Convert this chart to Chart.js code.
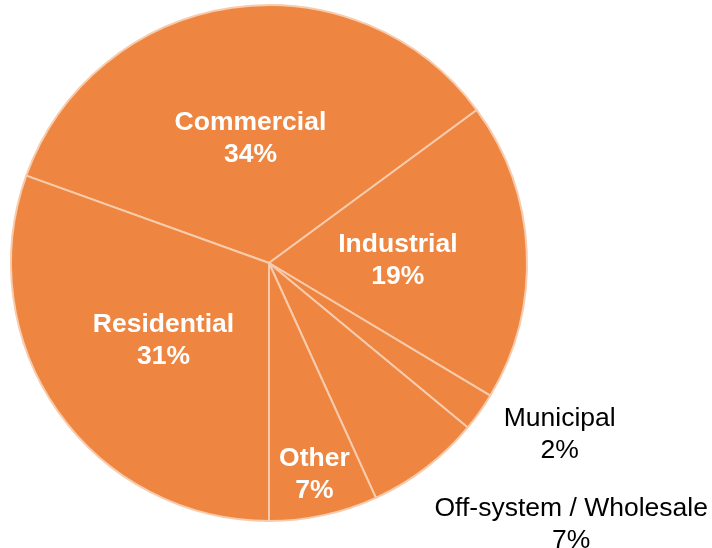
<!DOCTYPE html>
<html>
<head>
<meta charset="utf-8">
<script src="https://cdn.jsdelivr.net/npm/chart.js@4/dist/chart.umd.min.js"></script>
<style>
  html, body { margin: 0; padding: 0; background: #ffffff; }
  #wrap { width: 712px; height: 548px; }
</style>
</head>
<body>
<div id="wrap"><canvas id="c" width="712" height="548"></canvas></div>
<script>
// ---- data ----
const categories = ["Commercial", "Industrial", "Municipal", "Off-system / Wholesale", "Other", "Residential"];
const shares = [34.4, 18.7, 2.4, 7.2, 6.8, 30.5];

// ---- label placement (style) ----
const labelStyle = [
  { inside: true,  frac: 0.50, dx: 0,   dy: 3 },
  { inside: true,  frac: 0.50, dx: 0,   dy: 4 },
  { inside: false, frac: 1.20, dx: 38,  dy: -7 },
  { inside: false, frac: 1.20, dx: 114, dy: 16 },
  { inside: true,  frac: 0.83, dx: 0,   dy: 2 },
  { inside: true,  frac: 0.50, dx: 0,   dy: 4 }
];

const labelPlugin = {
  id: 'sliceLabels',
  afterDatasetsDraw(chart) {
    const ctx = chart.ctx;
    const meta = chart.getDatasetMeta(0);
    const data = chart.data.datasets[0].data;
    const total = data.reduce((a, b) => a + b, 0);
    meta.data.forEach((arc, i) => {
      const p = arc.getProps(['x', 'y', 'startAngle', 'endAngle', 'outerRadius'], true);
      const mid = (p.startAngle + p.endAngle) / 2;
      const st = labelStyle[i];
      const r = p.outerRadius * st.frac;
      const cx = p.x + Math.cos(mid) * r + st.dx;
      const cy = p.y + Math.sin(mid) * r + st.dy;
      const pct = Math.round(data[i] / total * 100) + '%';
      ctx.save();
      ctx.textAlign = 'center';
      ctx.textBaseline = 'middle';
      ctx.fillStyle = st.inside ? '#ffffff' : '#000000';
      ctx.font = (st.inside ? 'bold ' : '') + '26.5px "Liberation Sans", Arial, sans-serif';
      ctx.fillText(chart.data.labels[i], cx, cy - 16);
      ctx.fillText(pct, cx, cy + 16);
      ctx.restore();
    });
  }
};

new Chart(document.getElementById('c'), {
  type: 'pie',
  data: {
    labels: categories,
    datasets: [{
      data: shares,
      backgroundColor: '#EE8641',
      borderColor: '#F8CBAD',
      borderWidth: 2
    }]
  },
  options: {
    responsive: false,
    animation: false,
    rotation: -70.2,
    layout: { padding: { left: 10, top: 4, right: 184, bottom: 26 } },
    plugins: {
      legend: { display: false },
      tooltip: { enabled: false }
    }
  },
  plugins: [labelPlugin]
});
</script>
</body>
</html>
